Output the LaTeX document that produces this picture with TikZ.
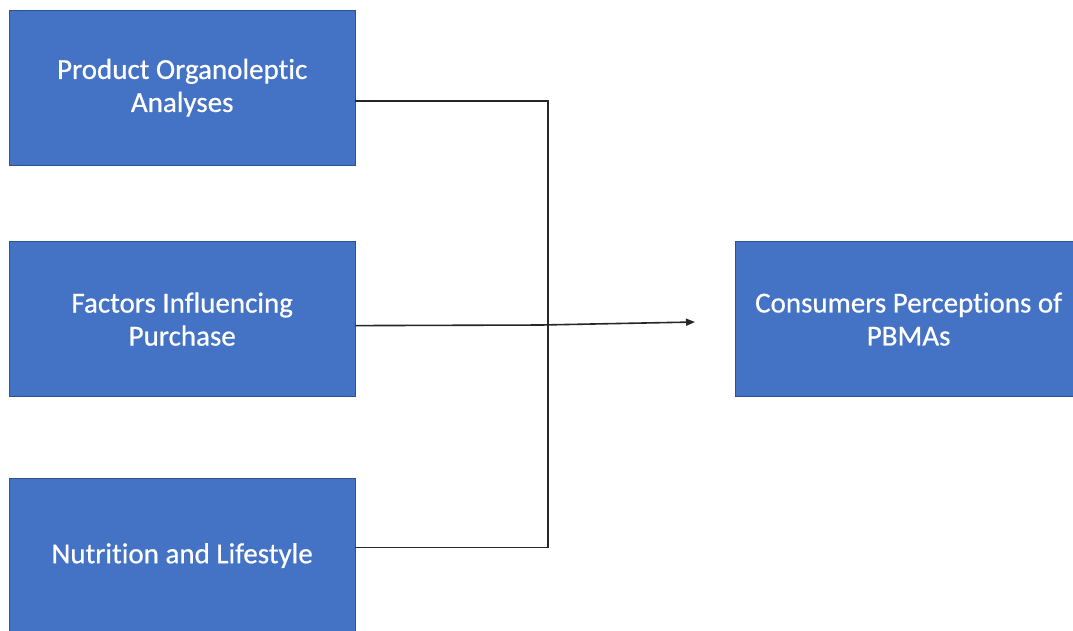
\documentclass[tikz,border=0pt]{standalone}
\usepackage{fontspec}
\setmainfont{Carlito}[Ligatures=NoCommon, FakeBold=0.6]
\usetikzlibrary{arrows.meta,positioning}
\definecolor{boxblue}{HTML}{4472C4}
\definecolor{boxedge}{HTML}{2F528F}

\begin{document}
\begin{tikzpicture}[x=1pt, y=1pt, node distance=76pt, every node/.style={font=\fontsize{29}{33}\selectfont}]
    \useasboundingbox (0,0) rectangle (1073,-630);
    \node[draw=boxedge, fill=boxblue, text=white, minimum width=346pt, minimum height=155pt, text width=336pt, align=flush center, anchor=north west] (organo) at (9,-10) {Product Organoleptic\\Analyses};
    \node[draw=boxedge, fill=boxblue, text=white, minimum width=346pt, minimum height=155pt, text width=336pt, align=flush center, below=of organo] (factors) {Factors Influencing\\Purchase};
    \node[draw=boxedge, fill=boxblue, text=white, minimum width=346pt, minimum height=155pt, text width=336pt, align=flush center, below=81pt of factors] (nutrition) {Nutrition and Lifestyle};
    \node[draw=boxedge, fill=boxblue, text=white, minimum width=346pt, minimum height=155pt, text width=336pt, align=flush center, right=380pt of factors] (percep) {Consumers Perceptions of\\PBMAs};
    \coordinate (join) at (548,-325);
    \coordinate (tip) at (695,-322);
    \draw[line width=1.6pt, black!85] ([yshift=-13.5pt]organo.east) -| (join) |- ([yshift=8pt]nutrition.east);
    \draw[line width=1.6pt, black!85] ([yshift=-6.5pt]factors.east) -- ([xshift=-4pt]join);
    \draw[-{Triangle[length=9pt,width=7pt]}, line width=1.6pt, black!85] ([xshift=-7pt]join) -- (tip);
\end{tikzpicture}
\end{document}
